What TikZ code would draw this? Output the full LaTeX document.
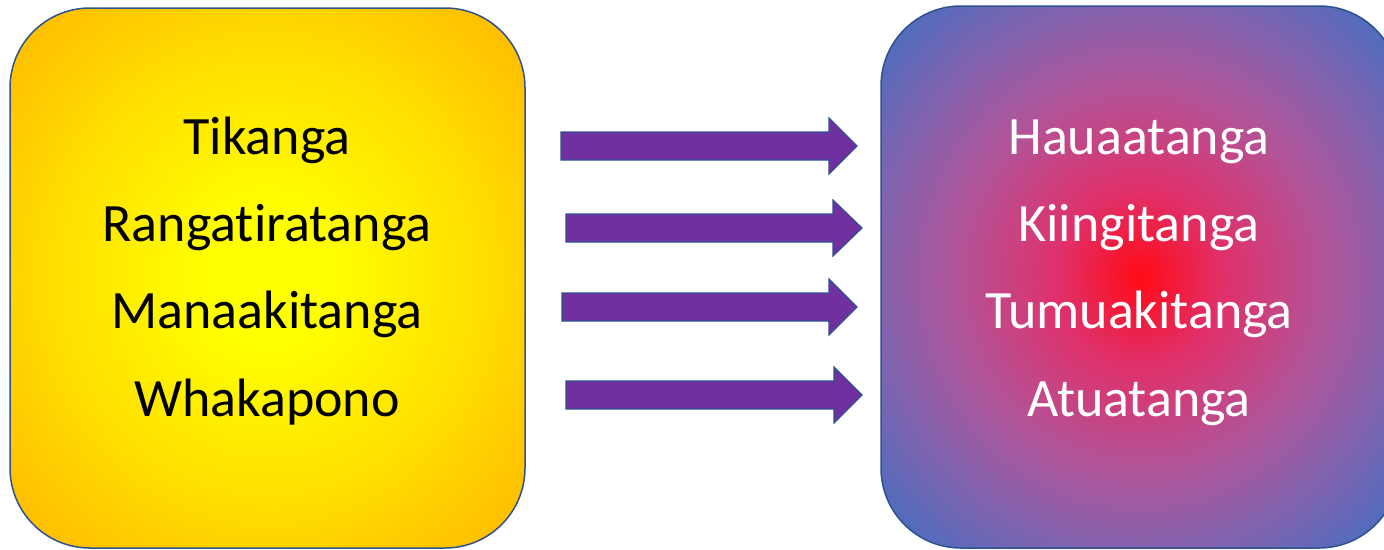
\documentclass[tikz,border=0pt]{standalone}
\usepackage{fontspec}
\setmainfont{Carlito}[Ligatures={NoCommon,NoRequired,NoContextual}]
\definecolor{edgeblue}{HTML}{2F528F}
\definecolor{arrpurple}{HTML}{7030A0}
\definecolor{yelc}{HTML}{FFFF00}
\definecolor{yelm}{HTML}{FFE000}
\definecolor{yelo}{HTML}{FFC000}
\definecolor{rc}{HTML}{FF0A14}
\definecolor{rm}{HTML}{E0306A}
\definecolor{rp}{HTML}{B0559A}
\definecolor{rv}{HTML}{7E64B0}
\definecolor{rb}{HTML}{3F6FC2}
\pgfdeclareradialshading{yellowglow}{\pgfpoint{0bp}{0bp}}{color(0bp)=(yelc); color(6bp)=(yelc); color(20bp)=(yelm); color(32bp)=(yelo); color(50bp)=(yelo)}
\pgfdeclareradialshading{redglow}{\pgfpoint{0bp}{0bp}}{color(0bp)=(rc); color(8bp)=(rm); color(18bp)=(rp); color(26bp)=(rv); color(35bp)=(rb); color(50bp)=(rb)}
\tikzset{
  panel/.style={draw=edgeblue, line width=1.5pt, rounded corners=80pt},
  blockarrow/.style={fill=arrpurple, draw=edgeblue, line width=1.2pt, line join=miter},
  darkword/.style={anchor=base, font=\fontsize{54}{65}\selectfont, text=black, inner sep=0pt},
  lightword/.style={anchor=base, font=\fontsize{54}{65}\selectfont, text=white, inner sep=0pt}
}
\newcommand{\mkblockarrow}[5]{% name, x0, xhead, xtip, yc
  \draw[blockarrow] (#2,#5-14) -- (#3,#5-14) -- (#3,#5-28) -- (#4,#5) coordinate (#1tip)
    -- (#3,#5+28) -- (#3,#5+14) -- (#2,#5+14) -- cycle;
}
\begin{document}
\begin{tikzpicture}[x=1pt,y=-1pt]
\useasboundingbox (0,0) rectangle (1384,549);
\clip (0,0) rectangle (1384,549);
% left panel
\shade[shading=yellowglow] [rounded corners=80pt] (10,8) rectangle (525,548);
\draw[panel] (10,8) rectangle (525,548);
% right panel
\shade[shading=redglow] [rounded corners=80pt] (881,6) rectangle (1399,548);
\draw[panel] (881,6) rectangle (1399,548);
% words
\node[darkword] (l1) at (267,154) {Tikanga};
\node[darkword] (l2) at (267,241) {Rangatiratanga};
\node[darkword] (l3) at (267,328.5) {Manaakitanga};
\node[darkword] (l4) at (267,416.5) {Whakapono};
\node[lightword] (r1) at (1139,154) {Hauaatanga};
\node[lightword] (r2) at (1139,241) {Kiingitanga};
\node[lightword] (r3) at (1139,328.5) {Tumuakitanga};
\node[lightword] (r4) at (1139,416.5) {Atuatanga};
% arrows
\mkblockarrow{a}{561}{829}{857}{146}
\mkblockarrow{b}{566}{833}{862}{228}
\mkblockarrow{c}{562}{829}{857}{307}
\mkblockarrow{d}{566}{834}{862}{395}
\end{tikzpicture}
\end{document}
